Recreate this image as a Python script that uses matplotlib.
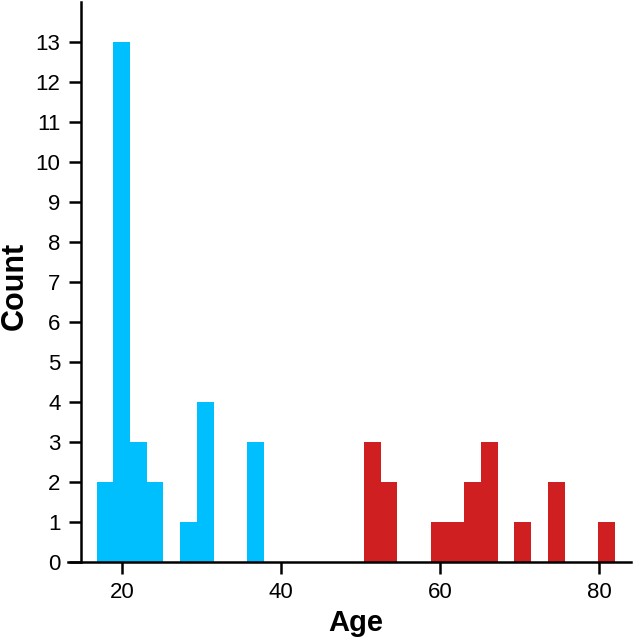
import numpy as np
import matplotlib
matplotlib.use("Agg")
import matplotlib.pyplot as plt

plt.rcParams["font.family"] = ["Liberation Sans", "DejaVu Sans"]

# histogram bins (31 equal bins across the age range)
bin_lo, bin_hi, n_bins = 16.78, 81.97, 31

# counts per bin, younger group (blue) and older group (red)
young_counts = [2, 13, 3, 2, 0, 1, 4, 0, 0, 3, 0, 0, 0, 0, 0, 0,
                0, 0, 0, 0, 0, 0, 0, 0, 0, 0, 0, 0, 0, 0, 0]
old_counts = [0, 0, 0, 0, 0, 0, 0, 0, 0, 0, 0, 0, 0, 0, 0, 0,
              3, 2, 0, 0, 1, 1, 2, 3, 0, 1, 0, 2, 0, 0, 1]

y_ticks = list(range(0, 14))
x_ticks = [20, 40, 60, 80]

edges = np.linspace(bin_lo, bin_hi, n_bins + 1)
centers = (edges[:-1] + edges[1:]) / 2

fig = plt.figure(figsize=(6.34, 6.40), dpi=100)
ax = fig.add_axes([0.107, 0.1214, 0.888, 0.876])

ax.hist(centers, bins=edges, weights=young_counts, color="#00bfff",
        edgecolor="none", linewidth=0)
ax.hist(centers, bins=edges, weights=old_counts, color="#d01f20",
        edgecolor="none", linewidth=0)

ax.set_xlim(13.17, 84.0)
ax.set_ylim(0, 14.0)
ax.set_xticks(x_ticks)
ax.set_yticks(y_ticks)

for side in ["top", "right"]:
    ax.spines[side].set_visible(False)
ax.spines["left"].set_position(("data", 14.77))
for side in ["left", "bottom"]:
    ax.spines[side].set_linewidth(1.8)
ax.tick_params(width=1.8, length=8.5, pad=6, labelsize=16, colors="black")

ax.set_xlabel("Age", fontsize=21, fontweight="bold")
ax.set_ylabel("Count", fontsize=22, fontweight="bold")
ax.xaxis.set_label_coords(0.511, -0.084)
ax.yaxis.set_label_coords(-0.067, 0.493)

fig.savefig("out.png", dpi=100)
